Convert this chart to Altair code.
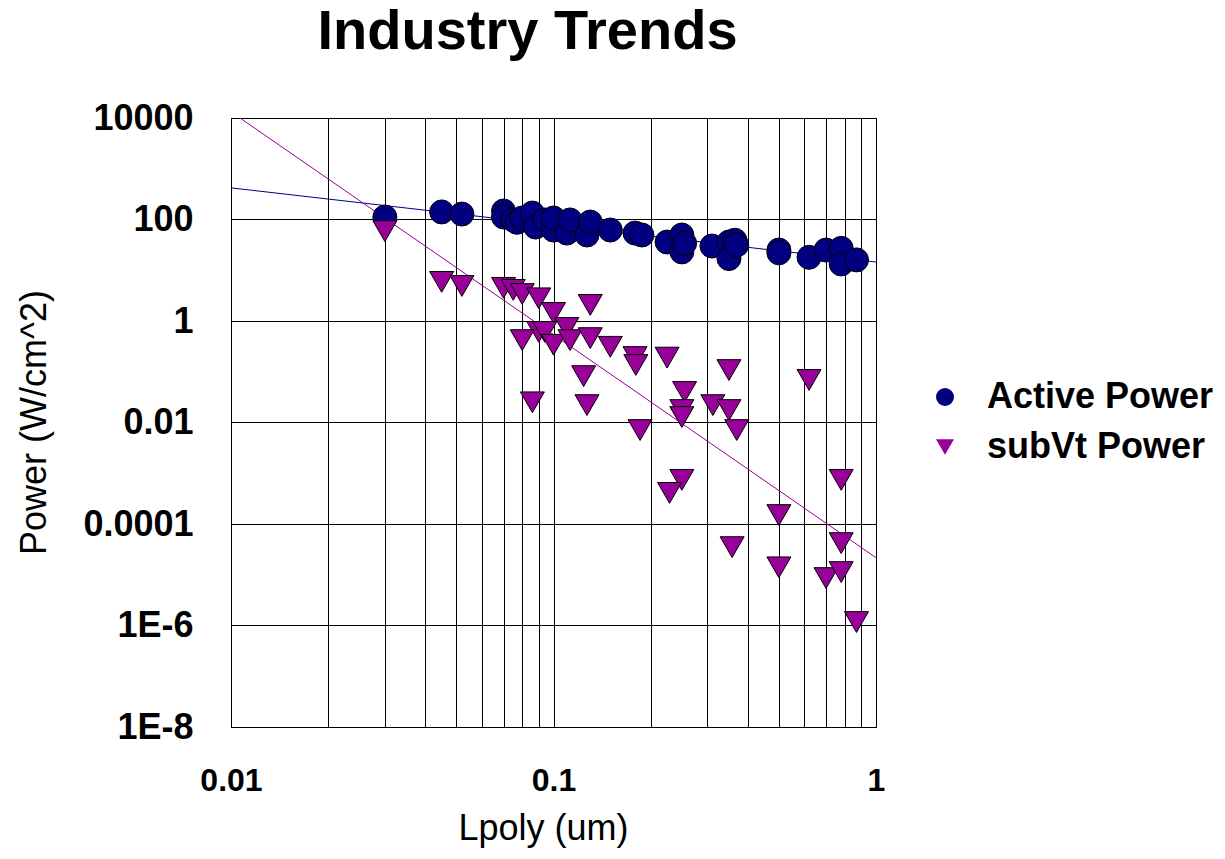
import altair as alt
import pandas as pd

# ---- data ----
active_x = [0.03, 0.045, 0.052, 0.07, 0.07, 0.075, 0.077, 0.08, 0.086, 0.088, 0.094, 0.1, 0.1,
            0.11, 0.1125, 0.127, 0.13, 0.15, 0.179, 0.188, 0.225, 0.25, 0.25, 0.255, 0.31,
            0.35, 0.365, 0.35, 0.37, 0.5, 0.5, 0.62, 0.7, 0.78, 0.78, 0.87]
active_y = [112, 141, 128, 147, 112, 98, 88, 107, 134, 71, 98, 62, 107,
            54, 98, 49.5, 89, 62, 54, 49.5, 36, 49.5, 23, 34, 30,
            36, 39, 17, 31.5, 25, 22, 18, 25, 27, 13.3, 16]

subvt_x = [0.03, 0.045, 0.052, 0.07, 0.075, 0.08, 0.09, 0.1, 0.13, 0.11, 0.09, 0.094, 0.08,
           0.1, 0.1125, 0.13, 0.15, 0.179, 0.18, 0.225, 0.086, 0.124, 0.127, 0.1855, 0.255,
           0.25, 0.25, 0.312, 0.35, 0.37, 0.35, 0.62, 0.25, 0.229, 0.5, 0.78, 0.78, 0.358,
           0.5, 0.7, 0.78, 0.87]
subvt_y = [59, 5.9, 4.9, 4.5, 4.1, 3.4, 2.8, 1.44, 2.07, 0.73, 0.61, 0.61, 0.42,
           0.34, 0.42, 0.46, 0.31, 0.195, 0.136, 0.19, 0.025, 0.082, 0.022, 0.0071, 0.040,
           0.0176, 0.0128, 0.022, 0.0176, 0.0071, 0.108, 0.069, 0.00074, 0.00041, 0.00015,
           0.00074, 4.2e-5, 3.5e-5, 1.4e-5, 8.6e-6, 1.13e-5, 1.17e-6]

# trend lines (power-law fits shown in the reference), endpoints at x = 0.01 and 1
active_fit_x = [0.01, 1]
active_fit_y = [420, 14.5]
subvt_fit_x = [0.01, 1]
subvt_fit_y = [13270, 2.17e-5]

series_names = ["Active Power", "subVt Power"]
series_colors = ["#000080", "#990099"]
series_shapes = ["circle", "triangle-down"]

x_grid_values = [0.01, 0.02, 0.03, 0.04, 0.05, 0.06, 0.07, 0.08, 0.09,
                 0.1, 0.2, 0.3, 0.4, 0.5, 0.6, 0.7, 0.8, 0.9, 1]
x_tick_labels = {0.01: "0.01", 0.1: "0.1", 1: "1"}
y_tick_values = [1e4, 1e2, 1, 1e-2, 1e-4, 1e-6, 1e-8]
y_tick_labels = ["10000", "100", "1", "0.01", "0.0001", "1E-6", "1E-8"]

# ---- tables ----
points = pd.DataFrame({
    "x": active_x + subvt_x,
    "y": active_y + subvt_y,
    "series": [series_names[0]] * len(active_x) + [series_names[1]] * len(subvt_x),
})
fit_active = pd.DataFrame({"x": active_fit_x, "y": active_fit_y})
fit_subvt = pd.DataFrame({"x": subvt_fit_x, "y": subvt_fit_y})

x_label_expr = " : ".join(
    f"datum.value == {repr(float(k))} ? '{v}'" for k, v in x_tick_labels.items()
) + " : ''"
y_label_expr = " : ".join(
    f"datum.value == {repr(float(k))} ? '{v}'" for k, v in zip(y_tick_values, y_tick_labels)
) + " : ''"

FONT = "Liberation Sans"

x_scale = alt.Scale(type="log", domain=[0.01, 1], nice=False)
y_scale = alt.Scale(type="log", domain=[1e-8, 1e4], nice=False)

x_axis = alt.Axis(
    values=x_grid_values, labelExpr=x_label_expr, labelOverlap=False,
    grid=True, gridColor="#000000", gridWidth=1, gridOpacity=1,
    ticks=False, tickSize=0, domain=False,
    labelFont=FONT, labelFontSize=32, labelFontWeight="bold", labelColor="#000000",
    labelBaseline="alphabetic", labelPadding=63, labelFlush=False,
    title="Lpoly (um)", titleFont=FONT, titleFontSize=36, titleFontWeight="normal",
    titleColor="#000000", titleBaseline="alphabetic", titleX=312, titleY=112,
    titleAnchor="start", titleAlign="center",
)
y_axis = alt.Axis(
    values=y_tick_values, labelExpr=y_label_expr, labelOverlap=False,
    grid=True, gridColor="#000000", gridWidth=1, gridOpacity=1,
    ticks=False, tickSize=0, domain=False,
    labelFont=FONT, labelFontSize=36, labelFontWeight="bold", labelColor="#000000",
    labelBaseline="middle", labelPadding=38, labelFlush=False,
    title="Power (W/cm^2)", titleFont=FONT, titleFontSize=36, titleFontWeight="normal",
    titleColor="#000000", titleBaseline="alphabetic", titleX=-186, titleY=304,
    titleAngle=-90, titleAlign="center",
)

lines_a = alt.Chart(fit_active).mark_line(color="#000080", strokeWidth=1, clip=True).encode(
    x=alt.X("x:Q", scale=x_scale, axis=x_axis),
    y=alt.Y("y:Q", scale=y_scale, axis=y_axis),
)
lines_s = alt.Chart(fit_subvt).mark_line(color="#990099", strokeWidth=1, clip=True).encode(
    x=alt.X("x:Q", scale=x_scale),
    y=alt.Y("y:Q", scale=y_scale),
)

pts = alt.Chart(points).mark_point(
    filled=True, size=576, opacity=1, stroke="#000000", strokeWidth=1, clip=True
).encode(
    x=alt.X("x:Q", scale=x_scale),
    y=alt.Y("y:Q", scale=y_scale),
    color=alt.Color("series:N", scale=alt.Scale(domain=series_names, range=series_colors),
                    legend=alt.Legend(title=None)),
    shape=alt.Shape("series:N", scale=alt.Scale(domain=series_names, range=series_shapes),
                    legend=alt.Legend(title=None)),
)

chart = alt.layer(lines_a, lines_s, pts).properties(
    width=645, height=609,
    title=alt.Title("Industry Trends", font=FONT, fontSize=56, fontWeight="bold",
                    color="#000000", anchor="middle", dx=-26, dy=17,
                    baseline="alphabetic", offset=12),
    autosize=alt.AutoSizeParams(type="none"),
    padding={"left": 223, "top": 110, "right": 341, "bottom": 122},
).configure_view(
    stroke="#000000", strokeWidth=1
).configure_legend(
    orient="none", legendX=696, legendY=261,
    labelFont=FONT, labelFontSize=36, labelFontWeight="bold", labelColor="#000000",
    labelLimit=400,
    symbolSize=324, symbolStrokeColor="#000000", symbolStrokeWidth=1, symbolOpacity=1,
    labelOffset=24, rowPadding=14, padding=0,
)

chart.save("out.html", embed_options={"renderer": "svg", "actions": False})
